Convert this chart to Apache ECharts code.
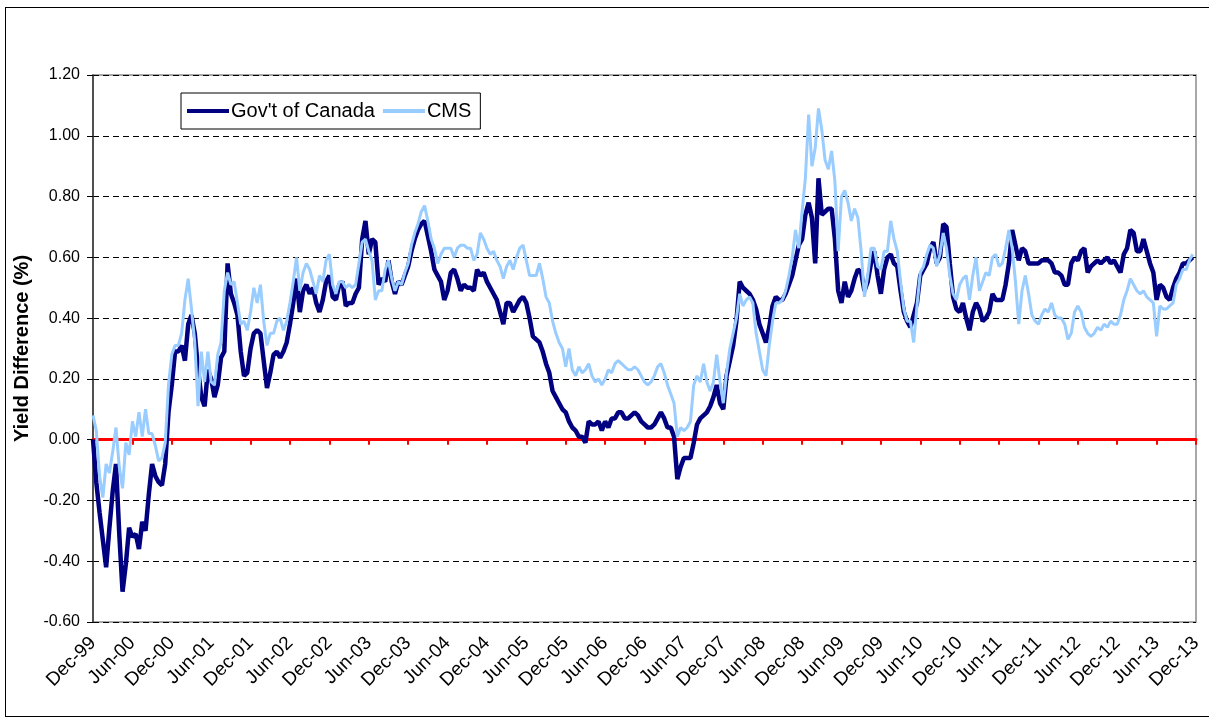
<!DOCTYPE html>
<html>
<head>
<meta charset="utf-8">
<script src="https://cdn.jsdelivr.net/npm/echarts/dist/echarts.min.js"></script>
<style>
  html, body { margin: 0; padding: 0; background: #fff; }
  #frame { position: absolute; left: 5px; top: 7px; width: 1210px; height: 708px; border: 1px solid #000; }
  #main { position: absolute; left: 0; top: 0; width: 1209px; height: 719px; }
</style>
</head>
<body>
<div id="frame"></div>
<div id="main"></div>
<script>
// x axis: months since Dec-99, one point every half month
var STEP = 0.5;
var tickLabels = ['Dec-99','Jun-00','Dec-00','Jun-01','Dec-01','Jun-02','Dec-02','Jun-03','Dec-03','Jun-04',
  'Dec-04','Jun-05','Dec-05','Jun-06','Dec-06','Jun-07','Dec-07','Jun-08','Dec-08','Jun-09',
  'Dec-09','Jun-10','Dec-10','Jun-11','Dec-11','Jun-12','Dec-12','Jun-13','Dec-13'];

// Govt of Canada yield difference (%)
var govt = [
  0.00,-0.14,-0.24,-0.33,-0.42,-0.29,-0.17,-0.08,-0.31,-0.50,
  -0.41,-0.29,-0.32,-0.31,-0.36,-0.27,-0.30,-0.18,-0.08,-0.12,
  -0.14,-0.15,-0.08,0.09,0.18,0.29,0.29,0.31,0.26,0.38,
  0.41,0.35,0.23,0.14,0.11,0.23,0.20,0.14,0.18,0.27,
  0.29,0.58,0.48,0.45,0.41,0.29,0.21,0.22,0.30,0.35,
  0.36,0.35,0.26,0.17,0.22,0.28,0.29,0.27,0.29,0.32,
  0.38,
  0.45,0.53,0.42,0.49,0.51,0.48,0.50,0.45,0.42,0.46,
  0.52,0.54,0.47,0.46,0.51,0.52,0.44,0.45,0.45,0.48,
  0.50,0.66,0.72,0.61,0.66,0.65,0.51,0.53,0.52,0.59,
  0.52,0.48,0.52,0.51,0.54,0.57,0.62,0.66,0.69,0.71,
  0.72,0.67,0.62,0.56,0.54,0.52,0.46,0.49,0.55,0.56,
  0.53,0.49,0.51,0.50,0.50,0.49,0.56,
  0.54,0.55,0.52,0.50,0.48,0.46,0.42,0.38,0.45,0.45,
  0.42,0.44,0.46,0.47,0.45,0.40,0.34,0.33,0.32,0.29,
  0.25,0.22,0.16,0.14,0.12,0.10,0.09,0.06,0.04,0.03,
  0.01,0.01,-0.01,0.06,0.05,0.05,0.06,0.03,0.06,0.04,
  0.07,0.07,0.09,0.09,0.07,0.07,0.08,0.09,0.08,0.06,
  0.05,0.04,0.04,0.05,0.07,0.09,0.07,0.04,
  0.04,0.01,-0.13,-0.09,-0.06,-0.06,-0.06,-0.01,0.05,0.07,
  0.08,0.09,0.11,0.14,0.18,0.12,0.10,0.21,0.26,0.31,
  0.39,0.52,0.50,0.49,0.48,0.46,0.43,0.38,0.35,0.32,
  0.37,0.44,0.47,0.46,0.46,0.48,0.51,0.54,0.59,0.64,
  0.66,0.74,0.78,0.73,0.58,0.86,0.74,0.75,0.76,0.76,
  0.66,0.49,0.45,0.52,0.47,0.49,0.53,0.56,
  0.55,0.49,0.52,0.58,0.62,0.54,0.48,0.56,0.60,0.61,
  0.58,0.57,0.49,0.42,0.39,0.37,0.41,0.45,0.54,0.56,
  0.58,0.63,0.65,0.58,0.60,0.71,0.70,0.58,0.47,0.43,
  0.42,0.45,0.40,0.36,0.42,0.45,0.43,0.39,0.40,0.42,
  0.48,0.46,0.46,0.46,0.51,0.58,0.69,0.64,0.59,0.63,
  0.62,0.58,0.58,0.58,0.58,0.59,0.59,0.59,
  0.58,0.55,0.55,0.54,0.51,0.51,0.58,0.60,0.59,0.62,
  0.63,0.55,0.57,0.58,0.59,0.58,0.59,0.60,0.58,0.59,
  0.57,0.55,0.61,0.63,0.69,0.68,0.62,0.62,0.66,0.62,
  0.58,0.55,0.46,0.51,0.50,0.47,0.46,0.50,0.53,0.55,
  0.58,0.58,0.59,0.60
];

// CMS yield difference (%)
var cms = [
  0.08,0.03,-0.12,-0.19,-0.08,-0.11,-0.04,0.04,-0.09,-0.16,
  -0.01,-0.05,0.06,0.01,0.09,0.01,0.10,0.02,0.02,-0.02,
  -0.07,-0.06,-0.01,0.18,0.28,0.31,0.31,0.35,0.46,0.53,
  0.43,0.32,0.11,0.29,0.19,0.29,0.19,0.18,0.28,0.32,
  0.49,0.55,0.51,0.52,0.45,0.38,0.39,0.36,0.42,0.50,
  0.45,0.51,0.39,0.31,0.35,0.35,0.39,0.40,0.36,0.39,
  0.45,
  0.52,0.60,0.49,0.55,0.58,0.56,0.52,0.48,0.54,0.52,
  0.59,0.61,0.51,0.48,0.52,0.52,0.50,0.51,0.50,0.51,
  0.58,0.65,0.66,0.62,0.59,0.46,0.49,0.49,0.56,0.59,
  0.53,0.49,0.52,0.51,0.55,0.58,0.64,0.68,0.71,0.75,
  0.77,0.72,0.66,0.63,0.58,0.61,0.63,0.63,0.63,0.60,
  0.63,0.64,0.64,0.63,0.63,0.59,0.61,
  0.68,0.66,0.63,0.61,0.62,0.59,0.57,0.53,0.57,0.59,
  0.56,0.60,0.63,0.64,0.59,0.54,0.54,0.54,0.58,0.53,
  0.47,0.45,0.39,0.35,0.32,0.30,0.24,0.30,0.23,0.21,
  0.24,0.22,0.23,0.25,0.21,0.19,0.20,0.18,0.20,0.23,
  0.22,0.25,0.26,0.25,0.24,0.23,0.23,0.24,0.23,0.21,
  0.19,0.18,0.19,0.21,0.24,0.25,0.22,0.18,
  0.15,0.12,0.01,0.04,0.03,0.04,0.06,0.18,0.21,0.19,
  0.25,0.19,0.16,0.19,0.28,0.19,0.12,0.22,0.30,0.35,
  0.40,0.48,0.44,0.46,0.47,0.45,0.35,0.29,0.23,0.21,
  0.31,0.39,0.45,0.45,0.46,0.49,0.54,0.60,0.69,0.63,
  0.75,0.86,1.07,0.90,0.96,1.09,1.02,0.92,0.89,0.95,
  0.85,0.62,0.80,0.82,0.78,0.72,0.76,0.73,
  0.62,0.47,0.54,0.63,0.63,0.57,0.56,0.62,0.62,0.72,
  0.66,0.62,0.52,0.43,0.39,0.39,0.32,0.44,0.55,0.57,
  0.61,0.64,0.63,0.57,0.61,0.68,0.63,0.54,0.48,0.46,
  0.51,0.53,0.54,0.46,0.54,0.60,0.49,0.52,0.55,0.54,
  0.60,0.61,0.57,0.58,0.63,0.69,0.63,0.52,0.38,0.49,
  0.54,0.48,0.41,0.39,0.38,0.41,0.43,0.42,
  0.45,0.41,0.40,0.40,0.38,0.33,0.35,0.42,0.44,0.42,
  0.37,0.35,0.34,0.35,0.37,0.36,0.38,0.37,0.39,0.38,
  0.38,0.41,0.46,0.49,0.53,0.51,0.49,0.48,0.49,0.47,
  0.46,0.45,0.34,0.44,0.43,0.43,0.44,0.45,0.51,0.53,
  0.56,0.56,0.59,0.61
];

function toPairs(arr) {
  return arr.map(function (v, i) { return [i * STEP, v]; });
}

var myChart = echarts.init(document.getElementById('main'), null, { renderer: 'canvas' });
var FONT = 'Liberation Sans, Arial, sans-serif';

var option = {
  animation: false,
  textStyle: { fontFamily: FONT, color: '#000' },
  grid: {
    left: 93, right: 13, top: 75, bottom: 97,
    show: true, borderColor: '#8c8c8c', borderWidth: 1.5, backgroundColor: '#fff'
  },
  legend: {
    left: 181, top: 93,
    padding: [8, 9, 8, 6],
    itemGap: 8, itemWidth: 42, itemHeight: 4, icon: 'rect',
    backgroundColor: '#fff', borderColor: '#000', borderWidth: 1,
    textStyle: { fontFamily: FONT, fontSize: 20, color: '#000', padding: [0, 0, 0, -3] },
    data: ["Gov't of Canada", 'CMS']
  },
  xAxis: [
    {
      // bottom labels
      type: 'value', min: 0, max: 168, interval: 6,
      position: 'bottom',
      axisLine: { show: false, onZero: false },
      axisTick: { show: false },
      splitLine: { show: false },
      axisLabel: {
        rotate: 45, fontSize: 19, fontFamily: FONT, color: '#000', margin: 18,
        formatter: function (v) { return tickLabels[Math.round(v / 6)]; }
      }
    },
    {
      // red zero line with its ticks
      type: 'value', min: 0, max: 168, interval: 6,
      position: 'top',
      axisLine: { show: true, onZero: true, lineStyle: { color: '#ff0000', width: 3 } },
      axisTick: { show: true, inside: true, length: 5, lineStyle: { color: '#ff0000', width: 2 } },
      splitLine: { show: false },
      axisLabel: { show: false }
    }
  ],
  yAxis: {
    type: 'value', min: -0.6, max: 1.2, interval: 0.2,
    name: 'Yield Difference (%)',
    nameLocation: 'middle', nameGap: 60, nameRotate: 90,
    nameTextStyle: { fontFamily: FONT, fontSize: 20, fontWeight: 'bold', color: '#000' },
    axisLine: { show: true, lineStyle: { color: '#333', width: 1.5 } },
    axisTick: { show: true, length: 6, lineStyle: { color: '#000' } },
    axisLabel: {
      fontSize: 16, fontFamily: FONT, color: '#000', margin: 13,
      formatter: function (v) { return v.toFixed(2); }
    },
    splitLine: { show: true, lineStyle: { color: '#000', width: 1, type: [6, 4] } }
  },
  series: [
    {
      name: "Gov't of Canada", type: 'line', xAxisIndex: 0,
      data: toPairs(govt), symbol: 'none',
      lineStyle: { color: '#000080', width: 4.5 }, itemStyle: { color: '#000080' }
    },
    {
      name: 'CMS', type: 'line', xAxisIndex: 0,
      data: toPairs(cms), symbol: 'none',
      lineStyle: { color: '#99ccff', width: 3 }, itemStyle: { color: '#99ccff' }
    }
  ]
};

myChart.setOption(option);
</script>
</body>
</html>
